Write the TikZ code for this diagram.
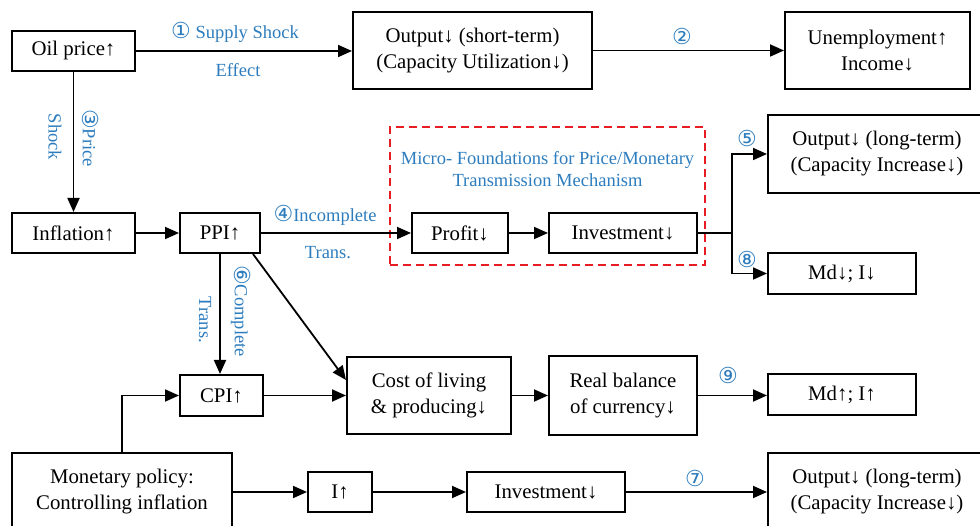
\documentclass[tikz,border=0pt]{standalone}
\usepackage{fontspec}
\setmainfont{Liberation Serif}
\newfontfamily\circfont{DejaVu Sans}
\usetikzlibrary{arrows.meta}
\definecolor{lblue}{RGB}{45,125,190}
\definecolor{dred}{RGB}{230,30,35}
\newcommand{\cnum}[1]{{\circfont\fontsize{22}{22}\selectfont #1}}
\begin{document}
\begin{tikzpicture}[x=1pt,y=-1pt,
  box/.style n args={2}{draw,line width=2pt,inner sep=0pt,minimum width=#1,minimum height=#2,align=center,font=\fontsize{20.8}{26}\selectfont},
  arr/.style={line width=1.8pt,-{Triangle[length=14pt,width=12pt]}},
  lbl/.style={text=lblue,font=\fontsize{18.5}{22}\selectfont,inner sep=0pt,align=center},
  redbox/.style={draw=dred,line width=2pt,dash pattern=on 8pt off 5pt}]
\useasboundingbox (0,0) rectangle (980,526);
% nodes
\node[box={123pt}{40pt}] (oil) at (73.5,51) {Oil price↑};
\node[box={239pt}{77pt}] (outS) at (472.5,50.5) {Output↓ (short-term)\\(Capacity Utilization↓)};
\node[box={185pt}{77pt}] (unemp) at (877.5,50.5) {Unemployment↑\\Income↓};
\node[box={123pt}{40pt}] (infl) at (73.5,233) {Inflation↑};
\node[box={80pt}{40pt}] (ppi) at (220,233) {PPI↑};
\node[box={96pt}{40pt}] (profit) at (460,233) {Profit↓};
\node[box={148pt}{40pt}] (inv1) at (623,233) {Investment↓};
\node[box={218pt}{78pt}] (outL1) at (877,154) {Output↓ (long-term)\\(Capacity Increase↓)};
\node[box={148pt}{41pt}] (md1) at (842,273.5) {Md↓; I↓};
\node[box={83pt}{41pt}] (cpi) at (221.5,395.5) {CPI↑};
\node[box={164pt}{77pt}] (cost) at (429,395.5) {Cost of living\\\& producing↓};
\node[box={148pt}{79pt}] (real) at (623,395.5) {Real balance\\of currency↓};
\node[box={148pt}{41pt}] (md2) at (842,394.5) {Md↑; I↑};
\node[box={220pt}{78pt}] (mon) at (122,492) {Monetary policy:\\Controlling inflation};
\node[box={64pt}{40pt}] (iup) at (340,492) {I↑};
\node[box={158pt}{40pt}] (inv2) at (546,492) {Investment↓};
\node[box={218pt}{78pt}] (outL2) at (877,492) {Output↓ (long-term)\\(Capacity Increase↓)};
% red dashed frame
\node[redbox,inner sep=0pt,minimum width=315pt,minimum height=138pt] (micro) at (547.5,196) {};
\node[lbl] (microtxt) at (547.5,169) {Micro- Foundations for Price/Monetary\\Transmission Mechanism};
% connectors
\draw[arr] (oil.east) -- (oil.east -| outS.west);
\draw[arr] (outS.east) -- (outS.east -| unemp.west);
\draw[arr] (oil.south) -- (infl.north);
\draw[arr] (infl.east) -- (ppi.west);
\draw[arr] (ppi.east) -- (profit.west);
\draw[arr] (profit.east) -- (inv1.west);
\coordinate (j) at (732,233);
\draw[arr] (inv1.east) -- (j) |- (outL1.west);
\draw[arr] (j) |- (md1.west);
\draw[arr] (ppi.south) -- (ppi.south |- cpi.north);
\draw[arr] ([xshift=-8pt]ppi.south east) -- ([yshift=15.5pt]cost.west);
\draw[arr] (cpi.east) -- (cpi.east -| cost.west);
\draw[arr] (cost.east) -- (real.west);
\draw[arr] (real.east) -- (real.east -| md2.west);
\draw[arr] (mon.north) |- (cpi.west);
\draw[arr] (mon.east) -- (iup.west);
\draw[arr] (iup.east) -- (inv2.west);
\draw[arr] (inv2.east) -- (outL2.west);
% labels
\node[lbl] (l1a) at (235,32) {\cnum{①} Supply Shock};
\node[lbl] (l1b) at (238,70) {Effect};
\node[lbl] (l2) at (682,36) {\cnum{②}};
\node[lbl,rotate=-90] (l3a) at (91,138) {\cnum{③}Price};
\node[lbl,rotate=-90] (l3b) at (55,137) {Shock};
\node[lbl] (l4a) at (325,215) {\cnum{④}Incomplete};
\node[lbl] (l4b) at (328,253) {Trans.};
\node[lbl] (l5) at (747,138) {\cnum{⑤}};
\node[lbl] (l8) at (747,259) {\cnum{⑧}};
\node[lbl,rotate=-90] (l6a) at (241,311) {\cnum{⑥}Complete};
\node[lbl,rotate=-90] (l6b) at (205,320) {Trans.};
\node[lbl] (l9) at (728,375) {\cnum{⑨}};
\node[lbl] (l7) at (695,478) {\cnum{⑦}};
\end{tikzpicture}
\end{document}
